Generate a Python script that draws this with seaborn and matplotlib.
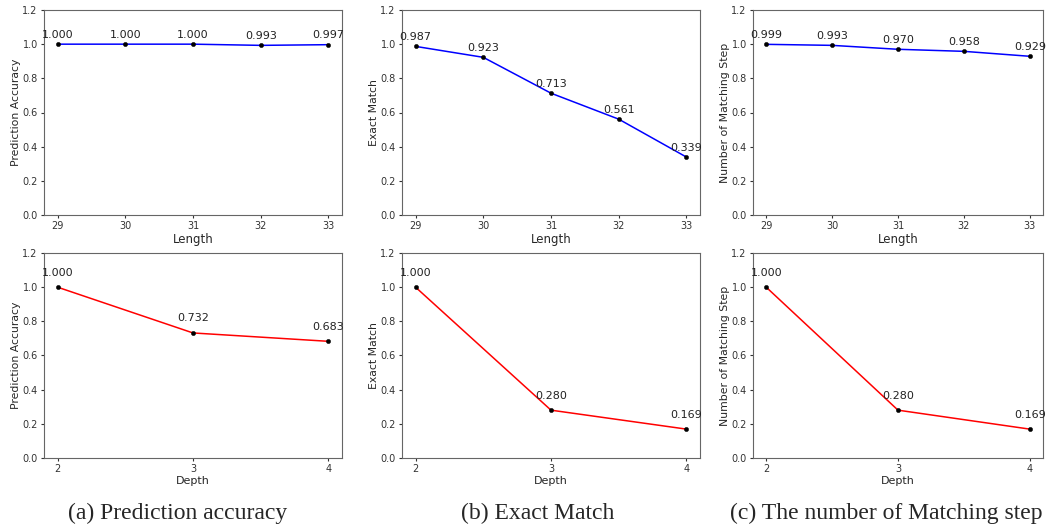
import numpy as np
import pandas as pd
import matplotlib
matplotlib.use("Agg")
import matplotlib.pyplot as plt
import seaborn as sns

# Data
lengths = [29, 30, 31, 32, 33]
depths = [2, 3, 4]

len_pred_acc = [1.000, 1.000, 1.000, 0.993, 0.997]
len_exact = [0.987, 0.923, 0.713, 0.561, 0.339]
len_steps = [0.999, 0.993, 0.970, 0.958, 0.929]

dep_pred_acc = [1.000, 0.732, 0.683]
dep_exact = [1.000, 0.280, 0.169]
dep_steps = [1.000, 0.280, 0.169]

ylabels = ["Prediction Accuracy", "Exact Match", "Number of Matching Step"]
captions = ["(a) Prediction accuracy", "(b) Exact Match", "(c) The number of Matching step"]
caption_x = [178, 538, 886]

sns.set_style("ticks")
plt.rcParams['font.family'] = ['DejaVu Sans']

W, H = 1049, 525
fig = plt.figure(figsize=(W / 100, H / 100), dpi=100)

# axes boxes in pixels (left, right)
cols = [(44, 342), (402, 700), (753, 1043)]
rows = [(10, 215), (253, 458)]  # (top, bottom)
label_off = [0.055, 0.085]

panels = [
    [(lengths, len_pred_acc, "Length", "blue"), (lengths, len_exact, "Length", "blue"), (lengths, len_steps, "Length", "blue")],
    [(depths, dep_pred_acc, "Depth", "red"), (depths, dep_exact, "Depth", "red"), (depths, dep_steps, "Depth", "red")],
]

for r, (top, bot) in enumerate(rows):
    for c, (left, right) in enumerate(cols):
        ax = fig.add_axes([left / W, 1 - bot / H, (right - left) / W, (bot - top) / H])
        xs, ys, xlabel, color = panels[r][c]
        df = pd.DataFrame({"x": xs, "y": ys})
        sns.lineplot(data=df, x="x", y="y", color=color, linewidth=1.1, ax=ax)
        sns.scatterplot(data=df, x="x", y="y", color="black", s=10, edgecolor="black", zorder=3, ax=ax)
        for x, y in zip(xs, ys):
            ax.text(x, y + label_off[r], f"{y:.3f}", ha="center", va="center",
                    fontsize=8, color="#222222")
        ax.set_ylim(0, 1.2)
        ax.set_yticks(np.arange(0, 1.21, 0.2))
        ax.set_xticks(xs)
        ax.tick_params(labelsize=7, length=2.5, pad=2, colors="#333333")
        ax.set_xlabel(xlabel, fontsize=8 if r else 8.5, labelpad=1)
        ax.set_ylabel(ylabels[c], fontsize=7.8, labelpad=1)
        for s in ax.spines.values():
            s.set_color("#666666")
            s.set_linewidth(0.8)

for cx, text in zip(caption_x, captions):
    fig.text(cx / W, 1 - 513 / H, text, ha="center", va="center",
             fontsize=17, family="Liberation Serif")

fig.savefig("out.png", dpi=100)
